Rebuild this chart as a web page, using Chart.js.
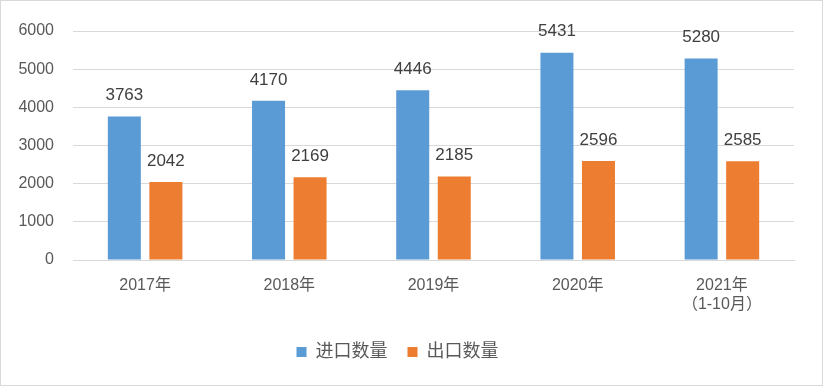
<!DOCTYPE html>
<html>
<head>
<meta charset="utf-8">
<script src="https://cdn.jsdelivr.net/npm/chart.js@4/dist/chart.umd.min.js"></script>
<style>
  body { margin: 0; background: #fff; }
  #box { width: 823px; height: 386px; box-sizing: border-box; border: 1px solid #d9d9d9; }
</style>
</head>
<body>
<div id="box"><canvas id="graph1" width="821" height="384"></canvas></div>
<script>
var years = ["2017年", "2018年", "2019年", "2020年", ["2021年", "（1-10月）"]];
var importQty = [3763, 4170, 4446, 5431, 5280];
var exportQty = [2042, 2169, 2185, 2596, 2585];
var yTicks = [0, 1000, 2000, 3000, 4000, 5000, 6000];

var FONT = '"Liberation Sans", "Noto Sans CJK SC", sans-serif';

// values drawn above the bars
var valueLabels = {
    id: "valueLabels",
    afterDatasetsDraw: function(chart) {
        let ctx = chart.ctx;
        ctx.save();
        ctx.font = "17px " + FONT;
        ctx.fillStyle = "#404040";
        ctx.textAlign = "center";
        ctx.textBaseline = "middle";
        chart.data.datasets.forEach(function(ds, i) {
            chart.getDatasetMeta(i).data.forEach(function(bar, j) {
                ctx.fillText(ds.data[j], bar.x, bar.y - 21);
            });
        });
        ctx.restore();
    }
};

let graph1 = document.getElementById("graph1").getContext("2d");
const myChart = new Chart(graph1, {
    type: "bar",
    data: {
        labels: years,
        datasets: [{
            label: "进口数量",
            data: importQty,
            backgroundColor: "#5b9bd5",
            categoryPercentage: 0.576,
            barPercentage: 0.795
        }, {
            label: "出口数量",
            data: exportQty,
            backgroundColor: "#ed7d31",
            categoryPercentage: 0.576,
            barPercentage: 0.795
        }]
    },
    options: {
        responsive: false,
        animation: false,
        layout: { padding: { top: 30, right: 28, bottom: 14, left: 0 } },
        scales: {
            y: {
                min: 0,
                max: 6000,
                afterBuildTicks: function(axis) {
                    axis.ticks = yTicks.map(function(v) { return { value: v }; });
                },
                afterFit: function(axis) { axis.width = 72; },
                border: { display: false },
                grid: { color: "#d9d9d9", drawTicks: false },
                ticks: {
                    color: "#595959",
                    font: { size: 16, family: FONT },
                    padding: 19,
                    callback: function(v) { return String(v); }
                }
            },
            x: {
                afterFit: function(axis) { axis.height = 63; },
                border: { color: "#d9d9d9" },
                grid: { display: false, drawTicks: false },
                ticks: { color: "#595959", font: { size: 16, family: FONT, lineHeight: 1.2 }, padding: 16 }
            }
        },
        plugins: {
            legend: {
                position: "bottom",
                labels: {
                    color: "#595959",
                    font: { size: 18, family: FONT },
                    boxWidth: 10,
                    boxHeight: 10,
                    padding: 20
                }
            },
            tooltip: { enabled: false }
        }
    },
    plugins: [valueLabels]
});
</script>
</body>
</html>
